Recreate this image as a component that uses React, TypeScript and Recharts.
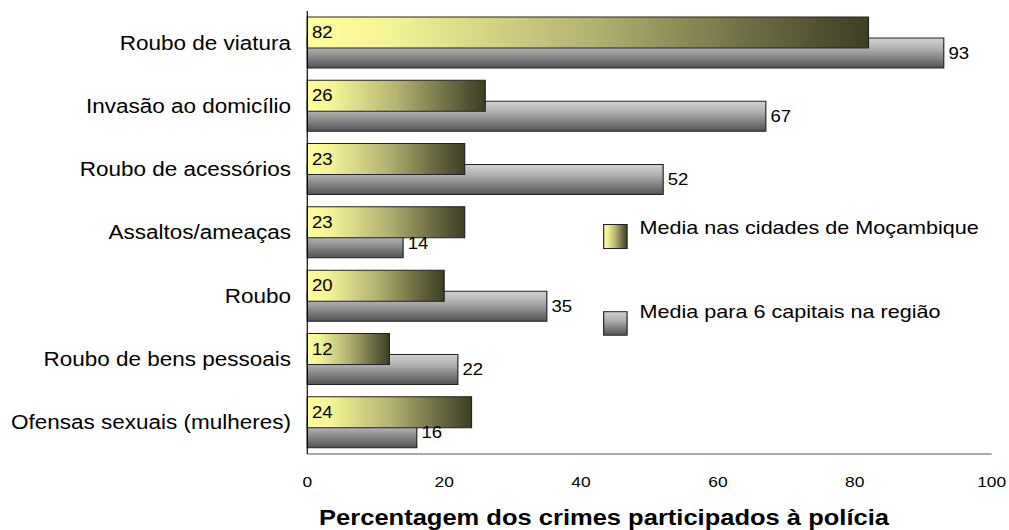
import React from 'react';
import { BarChart, Bar, XAxis, YAxis, LabelList, Legend } from 'recharts';

const categories = [
  'Roubo de viatura',
  'Invasão ao domicílio',
  'Roubo de acessórios',
  'Assaltos/ameaças',
  'Roubo',
  'Roubo de bens pessoais',
  'Ofensas sexuais (mulheres)',
];
const mozambique = [82, 26, 23, 23, 20, 12, 24];
const capitals = [93, 67, 52, 14, 35, 22, 16];
const xTicks = [0, 20, 40, 60, 80, 100];
const seriesNames = ['Media nas cidades de Moçambique', 'Media para 6 capitais na região'];
const axisTitle = 'Percentagem dos crimes participados à polícia';

const data = categories.map((name, i) => ({ name, moz: mozambique[i], cap: capitals[i] }));

// spacer slots (invisible) so each visible series sits in its own slot of the band
const spacerA = (d: any) => d.moz;
const spacerB = (d: any) => d.cap;

const SX = 1.16;
const W = 862;
const H = 522;
const FONT = '"Liberation Sans", Arial, Helvetica, sans-serif';

const YellowStops = () => (
  <>
    <stop offset="0" stopColor="#ffff9e" />
    <stop offset="0.15" stopColor="#f3f397" />
    <stop offset="0.5" stopColor="#b4b473" />
    <stop offset="0.85" stopColor="#5f5f3b" />
    <stop offset="1" stopColor="#3e3e25" />
  </>
);
const GrayStops = () => (
  <>
    <stop offset="0" stopColor="#d2d2d2" />
    <stop offset="0.35" stopColor="#b0b0b0" />
    <stop offset="1" stopColor="#535353" />
  </>
);

const LegendContent = () => (
  <svg width={330} height={120} style={{ display: 'block', overflow: 'visible', fontFamily: FONT }}>
    <defs>
      <linearGradient id="legYel" x1="0" y1="0" x2="1" y2="0">
        <YellowStops />
      </linearGradient>
      <linearGradient id="legGray" x1="0" y1="0" x2="0" y2="1">
        <GrayStops />
      </linearGradient>
    </defs>
    <rect x={0.5} y={0.5} width={20.2} height={24} fill="url(#legYel)" stroke="#222" />
    <text x={31.5} y={10} fontSize={18.6} fill="#000">{seriesNames[0]}</text>
    <rect x={0.5} y={87.7} width={20.2} height={23.5} fill="url(#legGray)" stroke="#222" />
    <text x={31.5} y={94.3} fontSize={18.6} fill="#000">{seriesNames[1]}</text>
  </svg>
);

const TitleLabel = (props: any) => {
  const vb = props.viewBox || { x: 258, y: 446, width: 590, height: 76 };
  return (
    <text
      x={vb.x + vb.width / 2 - 39.2}
      y={vb.y + vb.height - 5}
      textAnchor="middle"
      fontSize={22}
      fontWeight="bold"
      fill="#000"
      fontFamily={FONT}
    >
      {axisTitle}
    </text>
  );
};

export default function App() {
  return (
    <div
      style={{
        position: 'absolute',
        left: 8,
        top: 8,
        width: W,
        height: H,
        transform: `scaleX(${SX})`,
        transformOrigin: '0 0',
        fontFamily: FONT,
      }}
    >
      <BarChart
        width={W}
        height={H}
        data={data}
        layout="vertical"
        margin={{ top: 3, right: 14, bottom: 0, left: 0 }}
        barGap={-10}
      >
        <defs>
          <linearGradient id="yelGrad" x1="0" y1="0" x2="1" y2="0">
            <YellowStops />
          </linearGradient>
          <linearGradient id="grayGrad" x1="0" y1="0" x2="0" y2="1">
            <GrayStops />
          </linearGradient>
        </defs>
        <XAxis
          type="number"
          domain={[0, 100]}
          ticks={xTicks}
          interval={0}
          tickLine={false}
          tickSize={0}
          tickMargin={22}
          axisLine={{ stroke: '#555' }}
          tick={{ fontSize: 15, fill: '#000' }}
          height={76}
          label={(p: any) => <TitleLabel {...p} />}
        />
        <YAxis
          yAxisId="a"
          type="category"
          dataKey="name"
          width={258}
          interval={0}
          tickLine={false}
          tickSize={0}
          tickMargin={14}
          axisLine={{ stroke: '#000' }}
          tick={{ fontSize: 19.4, fill: '#000' }}
        />
        <YAxis yAxisId="b" type="category" dataKey="name" hide />
        <Bar
          yAxisId="b"
          dataKey={spacerB}
          barSize={31}
          fill="none"
          stroke="none"
          legendType="none"
          isAnimationActive={false}
        />
        <Bar
          yAxisId="b"
          dataKey="cap"
          name={seriesNames[1]}
          barSize={30}
          fill="url(#grayGrad)"
          stroke="#222"
          strokeWidth={1}
          isAnimationActive={false}
        >
          <LabelList dataKey="cap" position="right" offset={4} fill="#000" fontSize={16} />
        </Bar>
        <Bar
          yAxisId="a"
          dataKey="moz"
          name={seriesNames[0]}
          barSize={31}
          fill="url(#yelGrad)"
          stroke="#222"
          strokeWidth={1}
          isAnimationActive={false}
        >
          <LabelList dataKey="moz" position="insideLeft" offset={4} fill="#000" fontSize={16} />
        </Bar>
        <Bar
          yAxisId="a"
          dataKey={spacerA}
          barSize={30}
          fill="none"
          stroke="none"
          legendType="none"
          isAnimationActive={false}
        />
        <Legend
          layout="horizontal"
          align="center"
          verticalAlign="middle"
          content={() => <LegendContent />}
          wrapperStyle={{ left: 512.7, top: 216, width: 330, height: 120 }}
        />
      </BarChart>
    </div>
  );
}
